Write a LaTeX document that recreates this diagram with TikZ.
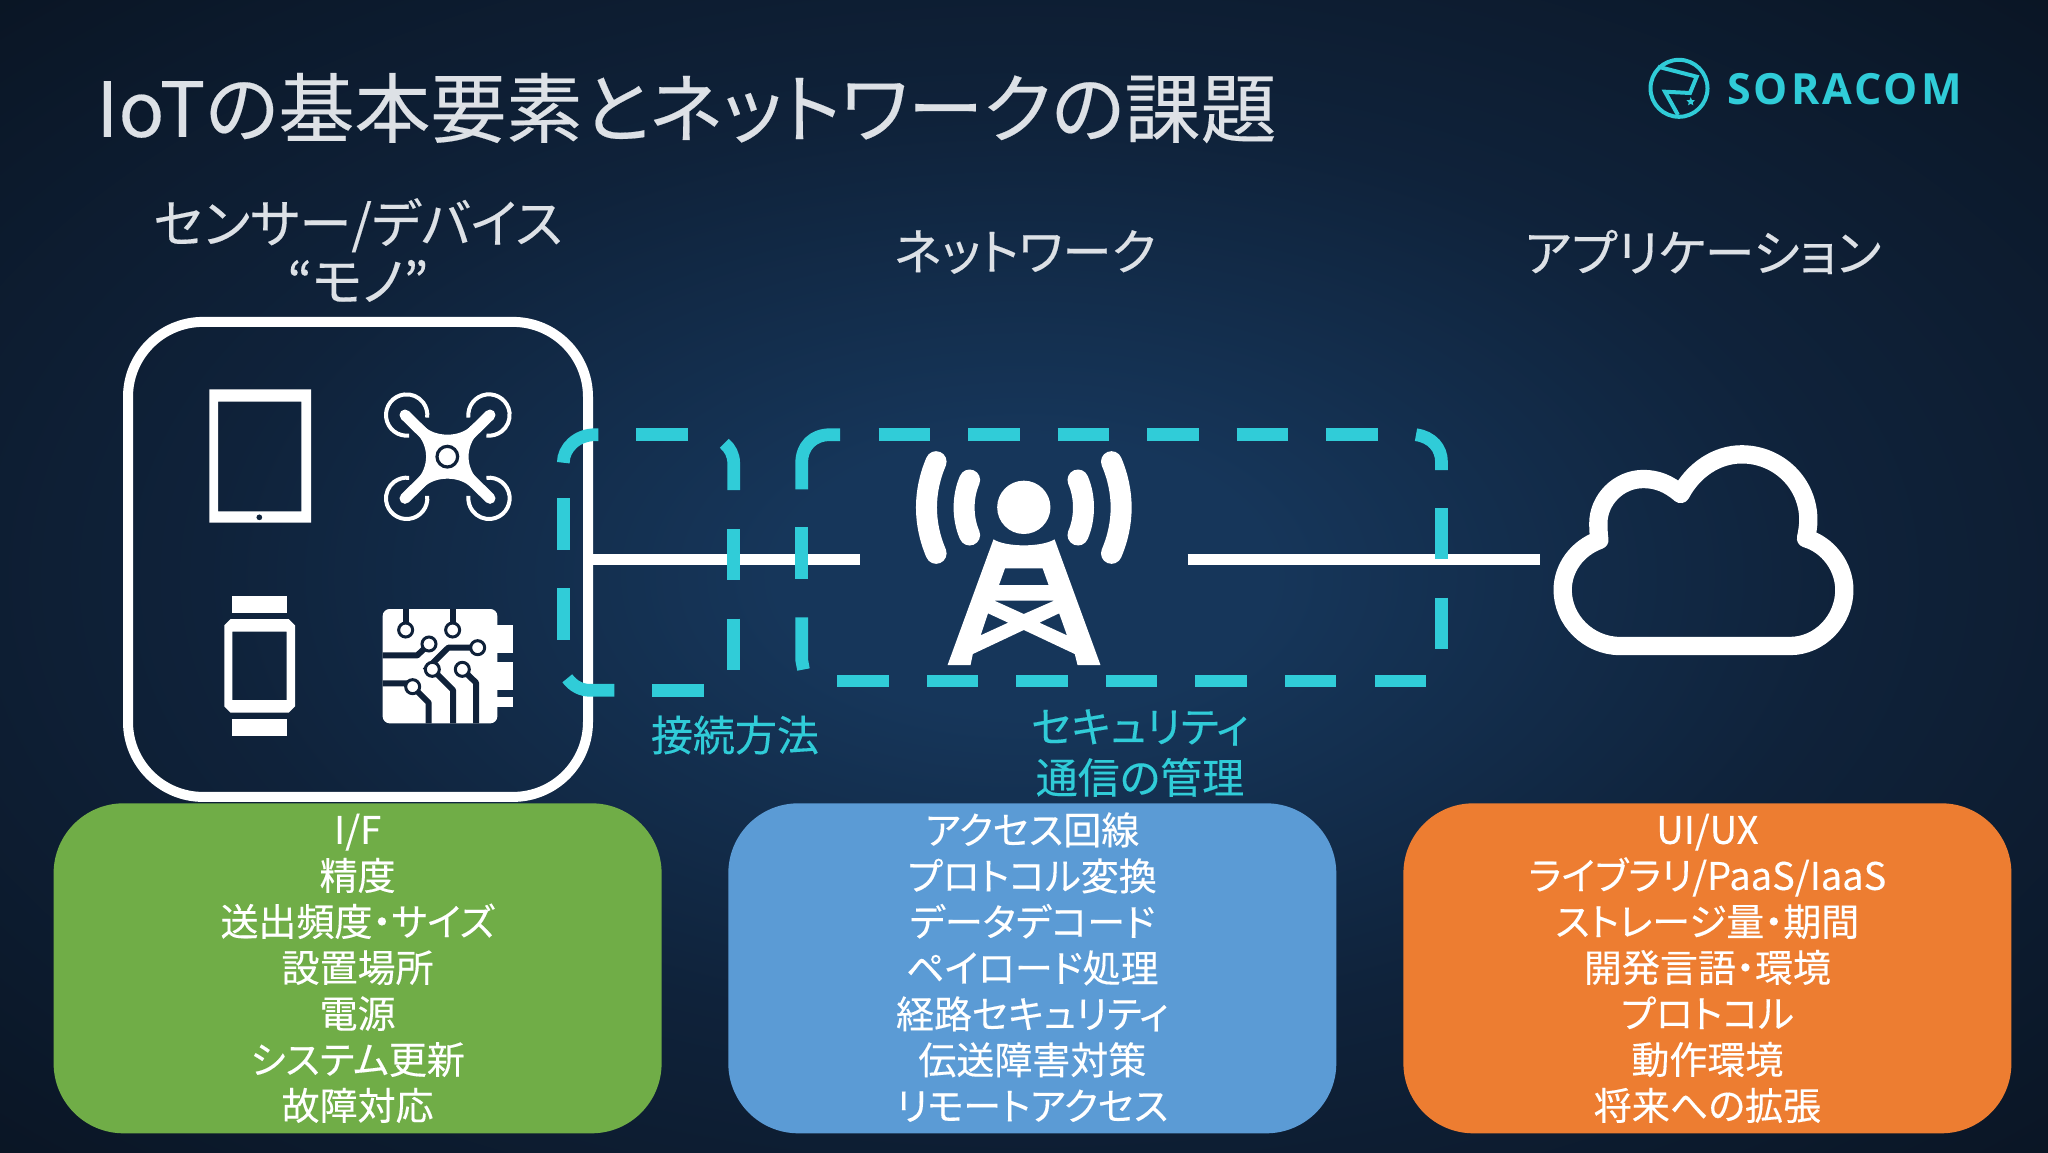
\documentclass[tikz,border=0pt]{standalone}
\usepackage{fontspec}
\usetikzlibrary{shapes.geometric}
\setmainfont[RawFeature=+palt,FakeBold=0.25]{Noto Sans CJK JP}
\newfontfamily\logofont[LetterSpace=7]{Open Sans}
\definecolor{bgedge}{HTML}{0A1524}
\definecolor{bgmid}{HTML}{0F223A}
\definecolor{bgcore}{HTML}{16365A}
\definecolor{iconhole}{HTML}{0F2139}
\definecolor{tealmark}{HTML}{30CCD8}
\definecolor{titlegrey}{HTML}{DDE1E6}
\definecolor{panelgreen}{HTML}{70AD47}
\definecolor{panelblue}{HTML}{5B9BD5}
\definecolor{panelorange}{HTML}{ED7D31}
\pgfdeclareradialshading{bgglow}{\pgfpoint{0bp}{0bp}}{color(0bp)=(bgcore); color(6bp)=(bgcore); color(20bp)=(bgmid); color(36bp)=(bgedge); color(50bp)=(bgedge)}
\tikzset{
  panel/.style={rounded corners=70pt,minimum width=608pt,minimum height=330pt,inner sep=0pt,text=white,align=center,font=\fontsize{38}{46}\selectfont},
  heading/.style={text=titlegrey,align=center,inner sep=0pt},
  tealtext/.style={text=tealmark,align=center,inner sep=0pt,font=\fontsize{42}{51}\selectfont},
  link/.style={draw=white,line width=10.8pt},
  dashseg/.style={draw=tealmark,line width=12.7pt},
  pin/.style={fill=white,draw=iconhole,line width=3pt},
  trace/.style={draw=iconhole,line width=6pt,line join=round}
}
\begin{document}
\begin{tikzpicture}[x=1pt,y=-1pt]
\useasboundingbox (0,0) rectangle (2048,1152);
\shade[shading=bgglow] (0,0) rectangle (2048,1152);

% headings
\node[anchor=west,inner sep=0pt,text=titlegrey,font=\fontsize{76}{84}\selectfont] (title) at (96,108) {IoTの基本要素とネットワークの課題};
\node[heading,font=\fontsize{52.5}{58}\selectfont] (hdevice) at (358,250) {センサー/デバイス\\“モノ”};
\node[heading,font=\fontsize{49.5}{57}\selectfont] (hnetwork) at (1025,252) {ネットワーク};
\node[heading,font=\fontsize{50}{57}\selectfont] (happ) at (1703,252) {アプリケーション};

% logo
\draw[tealmark,line width=4pt] (1679,88.3) circle[radius=28.5];
\draw[tealmark,line width=4pt,line join=miter] (1658,66.7) -- (1696.7,76.7) -- (1690,93) -- (1665,91.7) -- (1678,115);
\node[star,star points=5,star point ratio=2.2,fill=tealmark,inner sep=0pt,minimum size=9pt] (logostar) at (1690.7,101.7) {};
\node[anchor=west,inner sep=0pt,text=tealmark,font={\fontsize{43}{50}\logofont\bfseries\selectfont}] (logotext) at (1727,89) {SORACOM};
\node[star,star points=5,star point ratio=2.2,fill=bgedge,inner sep=0pt,minimum size=7pt] (logostarb) at (1838.3,89.5) {};

% connectors and icon frame
\node[draw=white,line width=10pt,rounded corners=75pt,minimum width=460pt,minimum height=475pt,inner sep=0pt] (sensorbox) at (358,559.4) {};
\coordinate (towerwest) at (860.3,559.4);
\coordinate (towereast) at (1187.7,559.4);
\coordinate (cloudwest) at (1540,559.4);
\draw[link] (sensorbox.east) -- (towerwest);
\draw[link] (towereast) -- (cloudwest);

% tablet, drone, watch, chip  (coordinates of a 3x crop)
\begin{scope}[shift={(100,300)},x=0.33333pt,y=-0.33333pt]
  \fill[white,even odd rule] (328,268) rectangle (633,668) (354,305) rectangle (604,634)
     (487,652) arc[start angle=0,end angle=360,radius=9];
  % drone
  \foreach \cx/\cy/\a in {920/345/45,1167/345/135,1167/595/225,920/595/315}{
    \draw[white,line width=4pt] ({\cx+62*cos(\a+38)},{\cy+62*sin(\a+38)}) arc[start angle=\a+38,end angle=\a+322,radius=62];
  }
  \draw[white,line width=11pt,line cap=round] (915,345) -- (1170,595) (1170,345) -- (915,595);
  \fill[white] (970,377) .. controls (1005,413) and (1080,413) .. (1114,377) -- (1135,398)
    .. controls (1096,440) and (1096,500) .. (1135,542) -- (1114,563)
    .. controls (1080,527) and (1005,527) .. (970,563) -- (949,542)
    .. controls (988,500) and (988,440) .. (949,398) -- cycle;
  \draw[iconhole,fill=white,line width=3.2pt] (1042,470) circle[radius=31];
  % watch
  \fill[white] (396,888) rectangle (561,938);
  \fill[white] (396,1258) rectangle (561,1308);
  \fill[white,even odd rule] (392,957) -- (566,957) -- (585,976) -- (585,1219) -- (566,1238) -- (392,1238) -- (373,1219) -- (373,976) -- cycle
     (397,995) rectangle (560,1200);
  % chip
  \fill[white,rounded corners=7pt] (848,927) rectangle (1192,1270);
  \fill[white] (1185,975) rectangle (1238,1060);
  \fill[white] (1185,1085) rectangle (1238,1170);
  \fill[white] (1185,1192) rectangle (1238,1220);
  \draw[trace] (917,927) -- (917,990);
  \draw[trace] (1058,927) -- (1058,990);
  \draw[trace] (848,1066) -- (952,1066) -- (987,1032);
  \draw[trace] (1133,1043) -- (1045,1043) -- (975,1112);
  \draw[trace] (997,1108) -- (1059,1170) -- (1059,1270);
  \draw[trace] (1087,1108) -- (1128,1148) -- (1128,1270);
  \draw[trace] (848,1150) -- (925,1150) -- (938,1160) -- (986,1208) -- (986,1270);
  \foreach \px/\py in {917/990,1058/990,987/1032,1133/1043,997/1108,1087/1108,938/1160}{
    \draw[pin] (\px,\py) circle[radius=21];
  }
\end{scope}

% tower (coordinates of a crop 2.178x wide, 3x high)
\begin{scope}[shift={(780,400)},x=0.45914pt,y=-0.33333pt]
  \foreach \sx/\ox in {1/0,-1/1062}{
    \draw[white,line width=21pt,line cap=round] (\ox+\sx*340,185) .. controls (\ox+\sx*312,275) and (\ox+\sx*312,370) .. (\ox+\sx*340,460);
    \draw[white,line width=21pt,line cap=round] (\ox+\sx*413,240) .. controls (\ox+\sx*397,290) and (\ox+\sx*397,355) .. (\ox+\sx*413,405);
  }
  \fill[white] (531,322) ellipse[x radius=58,y radius=80];
  \fill[white,even odd rule] (365,795) -- (415,795) -- (420,762) -- (531,690) -- (642,762) -- (648,795) -- (698,795) -- (598,418)
      .. controls (570,442) and (492,442) .. (465,418) -- cycle
    (490,505) -- (572,505) -- (585,555) -- (477,555) -- cycle
    (467,602) -- (597,602) -- (531,642) -- cycle
    (453,640) -- (497,668) -- (437,706) -- cycle
    (608,640) -- (565,668) -- (625,706) -- cycle;
\end{scope}

% cloud (coordinates of a 3x crop)
\begin{scope}[shift={(1520,420)},x=0.33333pt,y=-0.33333pt]
  \draw[white,line width=18.3pt,line join=round] (300,678) -- (810,678)
    .. controls (900,678) and (973,600) .. (973,510)
    .. controls (973,440) and (925,375) .. (858,355)
    .. controls (862,335) and (865,318) .. (865,300)
    .. controls (865,190) and (775,103) .. (665,103)
    .. controls (590,103) and (520,150) .. (482,222)
    .. controls (445,190) and (410,177) .. (370,177)
    .. controls (295,177) and (235,240) .. (235,310)
    .. controls (235,325) and (236,345) .. (238,360)
    .. controls (170,385) and (128,445) .. (128,510)
    .. controls (128,600) and (205,678) .. (300,678) -- cycle;
\end{scope}

% dashed zone: connection
\draw[dashseg] (598.3,434.7) -- (595,434.7) .. controls (577,434.7) and (563.3,448) .. (563.3,462.7);
\draw[dashseg] (636.3,434.7) -- (687.7,434.7);
\draw[dashseg] (724.3,443.3) .. controls (730,448) and (733.7,455) .. (733.7,463) -- (733.7,490);
\draw[dashseg] (733.7,529) -- (733.7,580);
\draw[dashseg] (733.7,618.7) -- (733.7,670);
\draw[dashseg] (563.3,498.3) -- (563.3,550);
\draw[dashseg] (563.3,588.3) -- (563.3,639.5);
\draw[dashseg] (567.3,678.3) .. controls (573,686) and (581,690.3) .. (590,690.3) -- (614.3,690.3);
\draw[dashseg] (652.3,690.3) -- (703.7,690.3);

% dashed zone: network
\draw[dashseg] (840,434.7) -- (830,434.7) .. controls (813,434.7) and (801.7,446) .. (801.7,463) -- (801.7,489.3);
\foreach \dx in {878.7,968.2,1057.7,1147.2,1236.7,1326.2}{
  \draw[dashseg] (\dx,434.7) -- (\dx+51.3,434.7);
}
\draw[dashseg] (1416,434.7) .. controls (1432,437) and (1441.5,448) .. (1441.5,462) -- (1441.5,470);
\draw[dashseg] (1441.5,508) -- (1441.5,559.3);
\draw[dashseg] (1441.5,597.7) -- (1441.5,649.3);
\draw[dashseg] (801.7,527.3) -- (801.7,578.7);
\draw[dashseg] (801.7,617.3) -- (801.7,660) -- (803.5,669.5);
\foreach \dx in {837.4,926.9,1016.4,1105.9,1195.4,1284.9}{
  \draw[dashseg] (\dx,681) -- (\dx+51.3,681);
}
\draw[dashseg] (1374.6,681) -- (1426,681);

% teal labels
\node[tealtext] (lconn) at (735,735) {接続方法};
\node[tealtext] (lsec) at (1140,753) {セキュリティ\\通信の管理};

% panels
\node[panel,fill=panelgreen] (pdevice) at (357.6,968.3) {I/F\\精度\\送出頻度・サイズ\\設置場所\\電源\\システム更新\\故障対応};
\node[panel,fill=panelblue] (pnetwork) at (1032.3,968.3) {アクセス回線\\プロトコル変換\\データデコード\\ペイロード処理\\経路セキュリティ\\伝送障害対策\\リモートアクセス\rule[-4pt]{0pt}{1pt}};
\node[panel,fill=panelorange] (papp) at (1707.4,968.3) {UI/UX\\ライブラリ/PaaS/IaaS\\ストレージ量・期間\\開発言語・環境\\プロトコル\\動作環境\\将来への拡張};
\end{tikzpicture}
\end{document}
